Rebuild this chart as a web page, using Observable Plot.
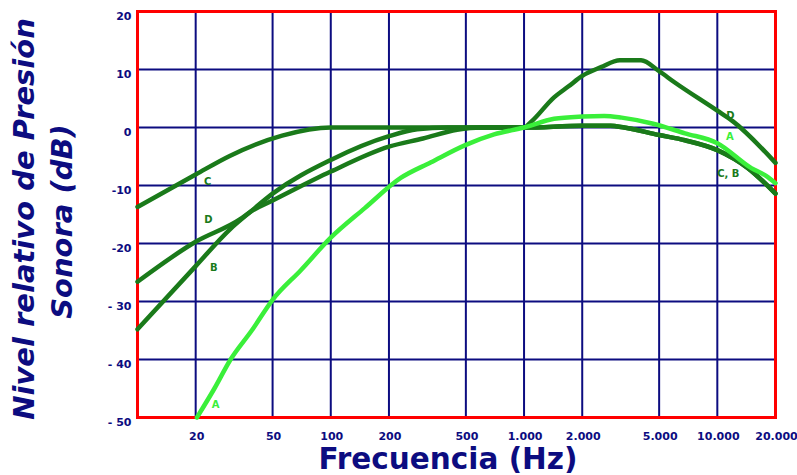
<!DOCTYPE html>
<html>
<head>
<meta charset="utf-8">
<script src="https://cdn.jsdelivr.net/npm/d3@7"></script>
<script src="https://cdn.jsdelivr.net/npm/@observablehq/plot@0.6"></script>
<style>
  html, body { margin: 0; padding: 0; background: #ffffff; }
  #chart { width: 797px; height: 475px; }
</style>
</head>
<body>
<div id="chart"></div>
<script>
// ---- tick values and labels ----
const xTicks = [20, 50, 100, 200, 500, 1000, 2000, 5000, 10000, 20000];
const xTickLabels = ["20", "50", "100", "200", "500", "1.000", "2.000", "5.000", "10.000", "20.000"];
const yTicks = [20, 10, 0, -10, -20, -30, -40, -50];
const yTickLabels = ["20", "10", "0", "-10", "-20", "- 30", "- 40", "- 50"];

// ---- weighting curves (frequency in Hz, relative level in dB) ----
const freqA = [20.3, 25, 30.3, 39, 50, 70, 100, 150, 230, 330, 500, 700, 1000, 1430, 2000, 2600, 3200, 4600, 6800, 10000, 15000, 17800, 20000];
const levelA = [-50, -45, -40, -35, -29.7, -24.6, -19, -13.9, -8.7, -6, -3, -1.2, 0, 1.5, 1.9, 2.0, 1.7, 0.7, -1.0, -2.7, -7.0, -8.3, -9.6];

const freqB = [10, 20, 30, 38.5, 50, 100, 200, 280, 400, 1000, 2000, 2800, 3300, 5000, 6800, 10000, 14400, 20000];
const levelB = [-34.8, -23.9, -17.6, -14.5, -11.4, -5.6, -1.5, -0.3, 0, 0, 0.3, 0.3, 0, -1.3, -2.2, -3.9, -7.0, -11.4];

const freqC = [10, 20, 30, 56, 100, 1000, 2000, 2800, 3300, 5000, 6800, 10000, 14400, 20000];
const levelC = [-13.7, -8.1, -4.9, -1.4, 0, 0, 0.3, 0.3, 0, -1.3, -2.2, -3.9, -7.0, -11.4];

const freqD = [10, 20, 34, 38.5, 50, 100, 200, 300, 450, 600, 1000, 1090, 1430, 1700, 2000, 2500, 3130, 4030, 5000, 6000, 10000, 12000, 20000];
const levelD = [-26.6, -19.7, -15.8, -14.5, -12.6, -7.6, -3.3, -1.9, -0.4, 0, 0, 1.0, 5.2, 7.1, 8.9, 10.4, 11.6, 11.6, 9.7, 7.8, 2.9, 1.1, -6.1];

// ---- curve labels ----
const labelText = ["C", "D", "B", "A", "D", "A", "C, B"];
const labelSeries = ["C", "D", "B", "A", "D", "A", "C"];
const labelFreq = [23.1, 23.3, 24.8, 25.4, 11700, 11600, 11400];
const labelLevel = [-9.3, -15.9, -24.2, -47.8, 2.1, -1.6, -7.9];

// ---- build tables ----
const navy = "#0c0c80";
const darkGreen = "#1a7a1a";
const lightGreen = "#3aef3a";
const colorOf = {A: lightGreen, B: darkGreen, C: darkGreen, D: darkGreen};

const toRows = (name, fs, ls) => fs.map((f, i) => ({series: name, f, db: ls[i]}));
const curves = [
  ...toRows("C", freqC, levelC),
  ...toRows("B", freqB, levelB),
  ...toRows("D", freqD, levelD),
  ...toRows("A", freqA, levelA)
];
const labels = labelText.map((t, i) => ({text: t, series: labelSeries[i], f: labelFreq[i], db: labelLevel[i]}));
const xTickRows = xTicks.map((t, i) => ({t, label: xTickLabels[i]}));
const yLabelMap = new Map(yTicks.map((t, i) => [t, yTickLabels[i]]));

const chart = Plot.plot({
  width: 797,
  height: 475,
  marginLeft: 137,
  marginRight: 22,
  marginTop: 11,
  marginBottom: 58,
  style: {fontFamily: "'DejaVu Sans', Verdana, sans-serif", background: "#ffffff"},
  x: {type: "log", domain: [10, 20000], axis: null},
  y: {type: "linear", domain: [-50, 20], axis: null},
  marks: [
    Plot.ruleX(xTicks, {stroke: navy, strokeWidth: 2}),
    Plot.ruleY(yTicks, {stroke: navy, strokeWidth: 2}),
    Plot.frame({stroke: "#ff0000", strokeWidth: 3}),
    Plot.line(curves, {
      x: "f", y: "db", z: "series",
      stroke: d => colorOf[d.series],
      strokeWidth: 4.5, strokeLinejoin: "round", strokeLinecap: "round",
      curve: "monotone-x"
    }),
    Plot.text(labels, {
      x: "f", y: "db", text: "text",
      fill: d => colorOf[d.series],
      fontSize: 10, fontWeight: "bold"
    }),
    // x tick labels
    Plot.text(xTickRows, {
      x: "t", text: "label", frameAnchor: "bottom",
      dy: 22, dx: 1,
      fontSize: 11, fontWeight: "bold", fill: navy
    }),
    Plot.axisY(yTicks, {
      tickFormat: d => yLabelMap.get(d),
      tickSize: 0, tickPadding: 6, dy: 5,
      fontSize: 11, fontWeight: "bold", color: navy, label: null
    }),
    Plot.text(["Nivel relativo de Presión"], {
      text: d => d, frameAnchor: "left", rotate: -90,
      dx: -103.5, dy: 4.5, lineAnchor: "bottom", textAnchor: "middle",
      fontSize: 29, fontWeight: "bold", fontStyle: "italic", fill: navy
    }),
    Plot.text(["Sonora (dB)"], {
      text: d => d, frameAnchor: "left", rotate: -90,
      dx: -65.3, dy: 7, lineAnchor: "bottom", textAnchor: "middle",
      fontSize: 29, fontWeight: "bold", fontStyle: "italic", fill: navy
    }),
    Plot.text(["Frecuencia (Hz)"], {
      text: d => d, frameAnchor: "bottom",
      dx: -8.5, dy: 51, lineAnchor: "bottom", textAnchor: "middle",
      fontSize: 29.5, fontWeight: "bold", fill: navy
    })
  ]
});
document.getElementById("chart").appendChild(chart);
</script>
</body>
</html>
